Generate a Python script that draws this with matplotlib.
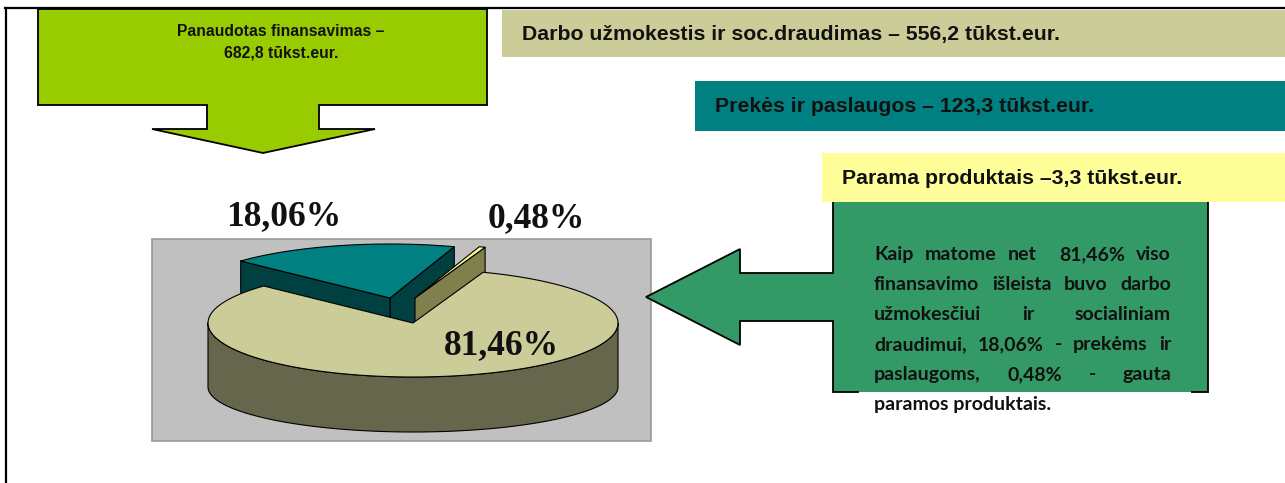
import matplotlib.pyplot as plt
import matplotlib.colors as mcolors
from matplotlib.patches import Polygon, Rectangle
import numpy as np

# ---- data ----
shares = [81.46, 18.06, 0.48]
share_labels = ['81,46%', '18,06%', '0,48%']
slice_colors = ['#CCCC99', '#008080', '#FFFF99']
total_lines = ['Panaudotas finansavimas –', '682,8 tūkst.eur.']
cost_items = ['Darbo užmokestis ir soc.draudimas – 556,2 tūkst.eur.',
              'Prekės ir paslaugos – 123,3 tūkst.eur.',
              'Parama produktais –3,3 tūkst.eur.']
note_lines = ['Kaip matome net  81,46% viso',
              'finansavimo išleista buvo darbo',
              'užmokesčiui ir socialiniam',
              'draudimui, 18,06% - prekėms ir',
              'paslaugoms, 0,48% - gauta',
              'paramos produktais.']

# ---- layout (pixels) ----
W, H = 1285, 483
PIE_CX = 413
PIE_CY = [323, 387]      # top / bottom ellipse centres
PIE_RX = 205
PIE_RY = [54, 45]
START = 70               # degrees, slices go clockwise
explode = [(0, 0), (-23, -25), (2, -25)]
label_pos = [(501, 346), (284, 217), (536, 219)]
box_left = [502, 695, 822]
box_top = [10, 81, 153]
box_h = [47, 50, 49]

fig = plt.figure(figsize=(W / 100, H / 100), dpi=100)
ax = fig.add_axes([0, 0, 1, 1])
ax.set_xlim(0, W)
ax.set_ylim(H, 0)
ax.axis('off')

sans = ['Liberation Sans', 'DejaVu Sans']

#=============green down arrow (total)====================
down = [(38, 9), (487, 9), (487, 105), (319, 105), (319, 129), (375, 129),
        (263, 153), (152, 129), (207, 129), (207, 105), (38, 105)]
ax.add_patch(Polygon(down, closed=True, fc='#99CC00', ec='black', lw=1.3, zorder=2))
for i, s in enumerate(total_lines):
    ax.text(281, 32 + 21 * i, s, ha='center', va='center', fontsize=11.3,
            fontweight='bold', family=sans, color='#111111', zorder=5)

#=============cost boxes====================
for i, s in enumerate(cost_items):
    ax.add_patch(Rectangle((box_left[i], box_top[i]), W - box_left[i], box_h[i],
                           fc=slice_colors[i], ec='none', zorder=4 if i == 2 else 2))
    ax.text(box_left[i] + 20, box_top[i] + box_h[i] / 2 + 1, s, ha='left', va='center',
            fontsize=15.3, fontweight='bold', family=sans, color='#111111', zorder=5)

#=============pie background====================
ax.add_patch(Rectangle((152, 239), 499, 202, fc='#C0C0C0', ec='#999999', lw=1.2, zorder=1))

#=============3d pie====================
def pt(theta, r, level, off):
    t = np.radians(theta)
    x = PIE_CX + off[0] + r * PIE_RX * np.cos(t)
    y = PIE_CY[level] + off[1] - r * PIE_RY[level] * np.sin(t)
    return x, y

def arc(a, b, level, off, n=120):
    th = np.linspace(a, b, n)
    xs, ys = pt(th, 1.0, level, off)
    return list(zip(xs, ys))

def darker(c, f=0.5):
    return tuple(np.array(mcolors.to_rgb(c)) * f)

slices = []
hi = START
for i, v in enumerate(shares):
    lo = hi - v * 3.6
    slices.append((lo, hi, i))
    hi = lo

# back slices first
order = sorted(slices, key=lambda s: -np.sin(np.radians((s[0] + s[1]) / 2)))
for lo, hi, i in order:
    off = explode[i]
    side = darker(slice_colors[i])
    kw = dict(closed=True, ec='black', lw=0.8, zorder=3, joinstyle='round')
    # outer wall, front half only
    for k in (-1, 0, 1):
        a = max(lo, -180 + 360 * k)
        b = min(hi, 360 * k)
        if a < b:
            poly = arc(a, b, 0, off) + arc(a, b, 1, off)[::-1]
            ax.add_patch(Polygon(poly, fc=side, **kw))
    # radial faces
    for ang, visible in ((lo, np.cos(np.radians(lo)) > 0), (hi, np.cos(np.radians(hi)) < 0)):
        if visible:
            face = [pt(ang, 0, 0, off), pt(ang, 1, 0, off), pt(ang, 1, 1, off), pt(ang, 0, 1, off)]
            ax.add_patch(Polygon(face, fc=side, **kw))
    # top
    top = [pt(lo, 0, 0, off)] + arc(lo, hi, 0, off)
    ax.add_patch(Polygon(top, fc=slice_colors[i], **kw))

for i, s in enumerate(share_labels):
    ax.text(label_pos[i][0], label_pos[i][1], s, ha='center', va='center', fontsize=25.5,
            fontweight='bold', family=['Liberation Serif', 'DejaVu Serif'], color='#111111', zorder=6)

#=============green left arrow with note====================
ax.add_patch(Polygon([(833, 200), (1208, 200), (1208, 392), (833, 392)], closed=True,
                     fc='#339966', ec='none', zorder=3))
ax.add_patch(Polygon([(833, 273), (740, 273), (740, 249), (646, 297), (740, 345), (740, 321),
                      (833, 321)], closed=True, fc='#339966', ec='none', zorder=3))
outline = [(858, 392), (833, 392), (833, 321), (740, 321), (740, 345), (646, 297),
           (740, 249), (740, 273), (833, 273), (833, 200), (1208, 200), (1208, 392), (1192, 392)]
ax.plot(*zip(*outline), color='black', lw=1.3, zorder=3.5, solid_joinstyle='miter')

fig.canvas.draw()
rend = fig.canvas.get_renderer()
note_font = dict(fontsize=14, fontweight='bold', family=['Lato', 'DejaVu Sans'],
                 color='#111111', va='baseline', zorder=6)
x0, x1 = 874, 1171
for j, line in enumerate(note_lines):
    y = 260 + 30 * j
    if j == len(note_lines) - 1:
        ax.text(x0, y, line, ha='left', **note_font)
        continue
    words = line.split(' ')
    texts = [ax.text(0, y, w, ha='left', **note_font) for w in words]
    widths = [t.get_window_extent(renderer=rend).width if w else 0 for t, w in zip(texts, words)]
    gap = (x1 - x0 - sum(widths)) / (len(words) - 1)
    x = x0
    for t, w in zip(texts, widths):
        t.set_x(x)
        x += w + gap

#=============frame====================
ax.plot([5, W], [8, 8], color='black', lw=1.6, zorder=7)
ax.plot([6, 6], [8, H], color='black', lw=1.6, zorder=7)

fig.savefig('out.png', dpi=100)
